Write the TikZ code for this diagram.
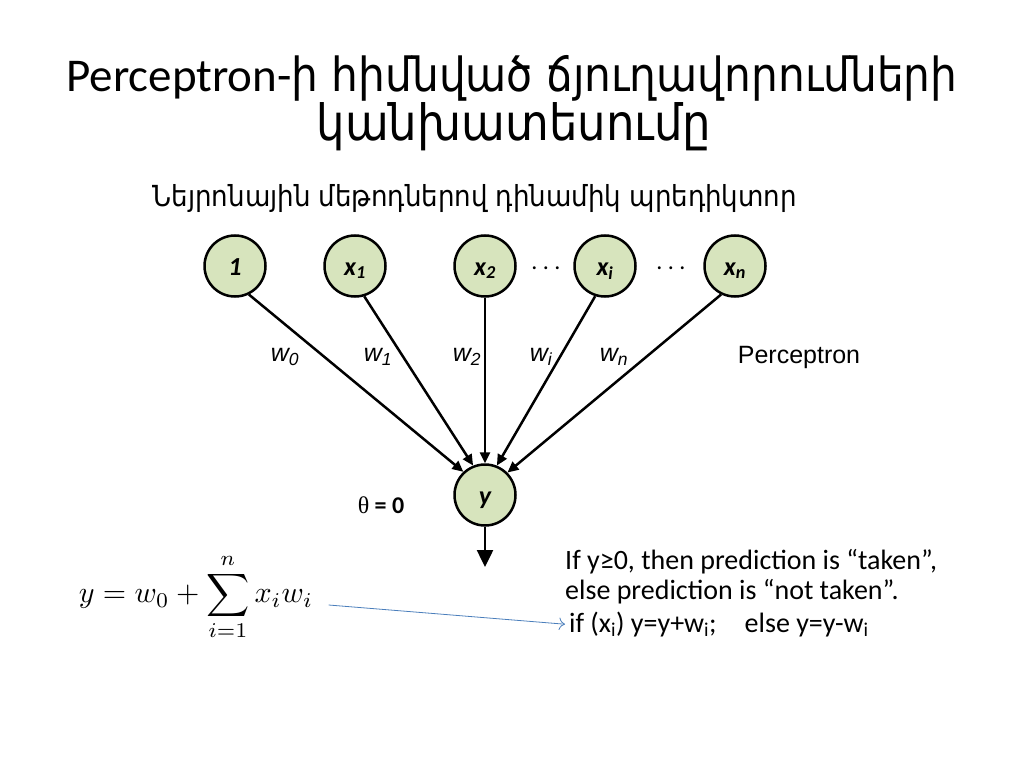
\documentclass[tikz,border=0pt]{standalone}
\usepackage{amsmath}
\usepackage{fontspec}
\setmainfont{Carlito}
\newfontfamily\armfont{DejaVu Sans Condensed}
\newfontfamily\arialfont{Liberation Sans}
\newfontfamily\greekfont{Liberation Serif}
\usetikzlibrary{arrows.meta,positioning}

\definecolor{nodegreen}{HTML}{D7E4BD}
\definecolor{linkblue}{HTML}{4A7EBB}

\begin{document}
\begin{tikzpicture}[x=1pt,y=-1pt,>={Triangle[length=11pt,width=10pt]}]
  \useasboundingbox (0,0) rectangle (1024,767);
  \tikzset{
    neuron/.style={circle, draw, line width=2.5pt, fill=nodegreen, minimum size=61pt, inner sep=0pt,
      text height=18pt, text depth=0pt, font=\fontsize{26}{30}\selectfont\bfseries\itshape},
    weight/.style={font=\arialfont\fontsize{25}{30}\selectfont\itshape},
    link/.style={line width=2.5pt, ->},
    body/.style={font=\fontsize{28}{32}\selectfont, anchor=base west, inner sep=0pt},
  }

  % title and subtitle
  \node[anchor=base] (title) at (512,92) {\fontsize{47}{56}\selectfont Perceptron-{\armfont ի հիմնված  ճյուղավորումների}};
  \node[anchor=base] (title2) at (514,141) {\armfont\fontsize{50}{58}\selectfont կանխատեսումը};
  \node[anchor=base] (sub) at (475,207) {\armfont\fontsize{29}{34}\selectfont Նեյրոնային մեթոդներով դինամիկ պրեդիկտոր};

  % inputs
  \node[neuron] (one) at (235,266) {1};
  \node[neuron] (x1) at (355,266) {x\textsubscript{1}};
  \node[neuron] (x2) at (485,266) {x\textsubscript{2}};
  \node[neuron] (xi) at (605,266) {x\textsubscript{i}};
  \node[neuron] (xn) at (735,266) {x\textsubscript{n}};
  \node[font=\fontsize{24}{28}\selectfont] (dotsa) at (546,268) {.\ .\ .};
  \node[font=\fontsize{24}{28}\selectfont] (dotsb) at (671,268) {.\ .\ .};

  % output neuron
  \node[neuron] (y) at (485,495) {y};
  \coordinate (out) at (485,567);

  \draw[link] (one.-64) -- (y.133);
  \draw[link] (x1.-73) -- (y.112);
  \draw[link] (x2.south) -- (y.north);
  \draw[link] (xi.-108) -- (y.68);
  \draw[link] (xn.-116) -- (y.45);
  \draw[line width=2.5pt,-{Triangle[length=17pt,width=16pt]}] (y) -- (out);

  % weights
  \node[weight] (w0) at (285,357) {w\textsubscript{0}};
  \node[weight] (w1) at (378,357) {w\textsubscript{1}};
  \node[weight] (w2) at (467,357) {w\textsubscript{2}};
  \node[weight] (wi) at (541,357) {w\textsubscript{i}};
  \node[weight] (wn) at (614,357) {w\textsubscript{n}};
  \node[font=\arialfont\fontsize{25}{30}\selectfont] (ptron) at (799,357) {Perceptron};
  \node[font=\fontsize{24}{28}\selectfont] (theta) at (381,505) {{\greekfont θ} \textbf{= 0}};

  % formula and rule
  \node (sum) at (196,597) {\scalebox{3}{$\displaystyle y = w_0 + \sum_{i=1}^{n} x_i w_i$}};
  \node[body] (ifpos) at (565,569) {If y≥0, then prediction is “taken”,};
  \node[body] (elsepos) at (565,599) {else prediction is “not taken”.};
  \node[body] (ifline) at (569,632) {if (x\textsubscript{i}) y=y+w\textsubscript{i};\quad else y=y-w\textsubscript{i}};
  \draw[linkblue, line width=0.8pt, -{To[length=6pt]}] ([shift={(12,8)}]sum.east) -- ([xshift=-4pt]ifline.west);
\end{tikzpicture}
\end{document}
